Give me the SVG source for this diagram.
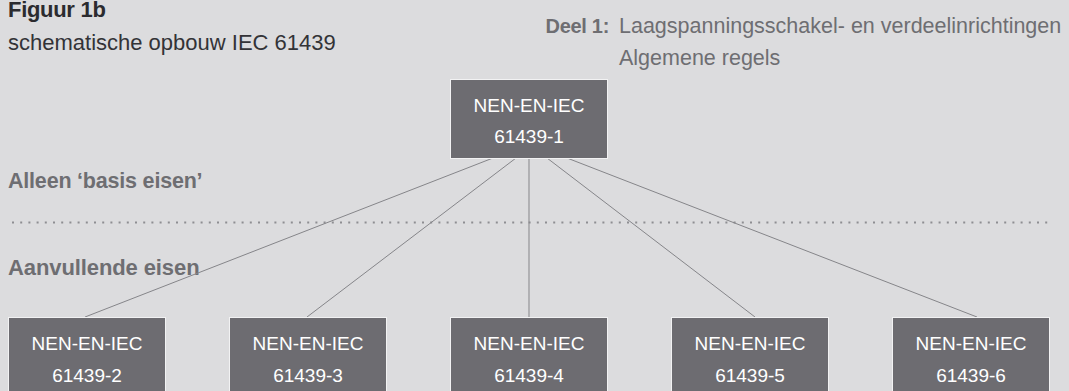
<svg xmlns="http://www.w3.org/2000/svg" width="1069" height="391" viewBox="0 0 1069 391">
<style>
.bg{fill:#dcdcde}
.box{fill:#6d6c71;stroke:#f2f2f3;stroke-width:1}
.bt{font-family:"Liberation Sans",Arial,sans-serif;font-size:19px;fill:#ffffff;text-anchor:middle}
.conn{stroke:#858589;stroke-width:1;fill:none}
.dots{stroke:#8e8e92;stroke-width:2;stroke-dasharray:2 6.2;fill:none}
.t{font-family:"Liberation Sans",Arial,sans-serif}
</style>
<rect class="bg" x="0" y="0" width="1069" height="391"/>
<g id="titles">
<text class="t" x="8" y="17" font-size="22" font-weight="bold" fill="#2b2b2f" letter-spacing="-0.3">Figuur 1b</text>
<text class="t" x="8" y="50" font-size="22" fill="#333337">schematische opbouw IEC 61439</text>
<text class="t" x="609" y="33" font-size="20" font-weight="bold" fill="#6e6e72" text-anchor="end" letter-spacing="-0.3">Deel 1:</text>
<text class="t" x="619" y="33" font-size="21.5" fill="#6e6e72">Laagspanningsschakel- en verdeelinrichtingen</text>
<text class="t" x="619" y="65" font-size="21.5" fill="#6e6e72">Algemene regels</text>
<text class="t" x="8" y="188" font-size="21.5" font-weight="bold" fill="#6e6e72" letter-spacing="-0.2">Alleen ‘basis eisen’</text>
<text class="t" x="8" y="275" font-size="22" font-weight="bold" fill="#6e6e72" letter-spacing="-0.1">Aanvullende eisen</text>
</g>
<line class="dots" x1="12" y1="222.5" x2="1053" y2="222.5"/>
<g id="connectors">
<line class="conn" x1="493" y1="158" x2="85" y2="317"/>
<line class="conn" x1="516" y1="158" x2="307" y2="317"/>
<line class="conn" x1="529" y1="158" x2="529" y2="317"/>
<line class="conn" x1="547" y1="158" x2="755" y2="317"/>
<line class="conn" x1="567" y1="158" x2="977" y2="317"/>
</g>
<g id="node-1">
<rect class="box" x="450.5" y="79.5" width="157" height="79"/>
<text class="bt" x="529" y="112">NEN-EN-IEC</text>
<text class="bt" x="529" y="143">61439-1</text>
</g>
<g id="node-2">
<rect class="box" x="8.5" y="317.5" width="157" height="79"/>
<text class="bt" x="87" y="350">NEN-EN-IEC</text>
<text class="bt" x="87" y="382">61439-2</text>
</g>
<g id="node-3">
<rect class="box" x="229.5" y="317.5" width="157" height="79"/>
<text class="bt" x="308" y="350">NEN-EN-IEC</text>
<text class="bt" x="308" y="382">61439-3</text>
</g>
<g id="node-4">
<rect class="box" x="450.5" y="317.5" width="157" height="79"/>
<text class="bt" x="529" y="350">NEN-EN-IEC</text>
<text class="bt" x="529" y="382">61439-4</text>
</g>
<g id="node-5">
<rect class="box" x="671.5" y="317.5" width="157" height="79"/>
<text class="bt" x="750" y="350">NEN-EN-IEC</text>
<text class="bt" x="750" y="382">61439-5</text>
</g>
<g id="node-6">
<rect class="box" x="892.5" y="317.5" width="157" height="79"/>
<text class="bt" x="971" y="350">NEN-EN-IEC</text>
<text class="bt" x="971" y="382">61439-6</text>
</g>
</svg>
